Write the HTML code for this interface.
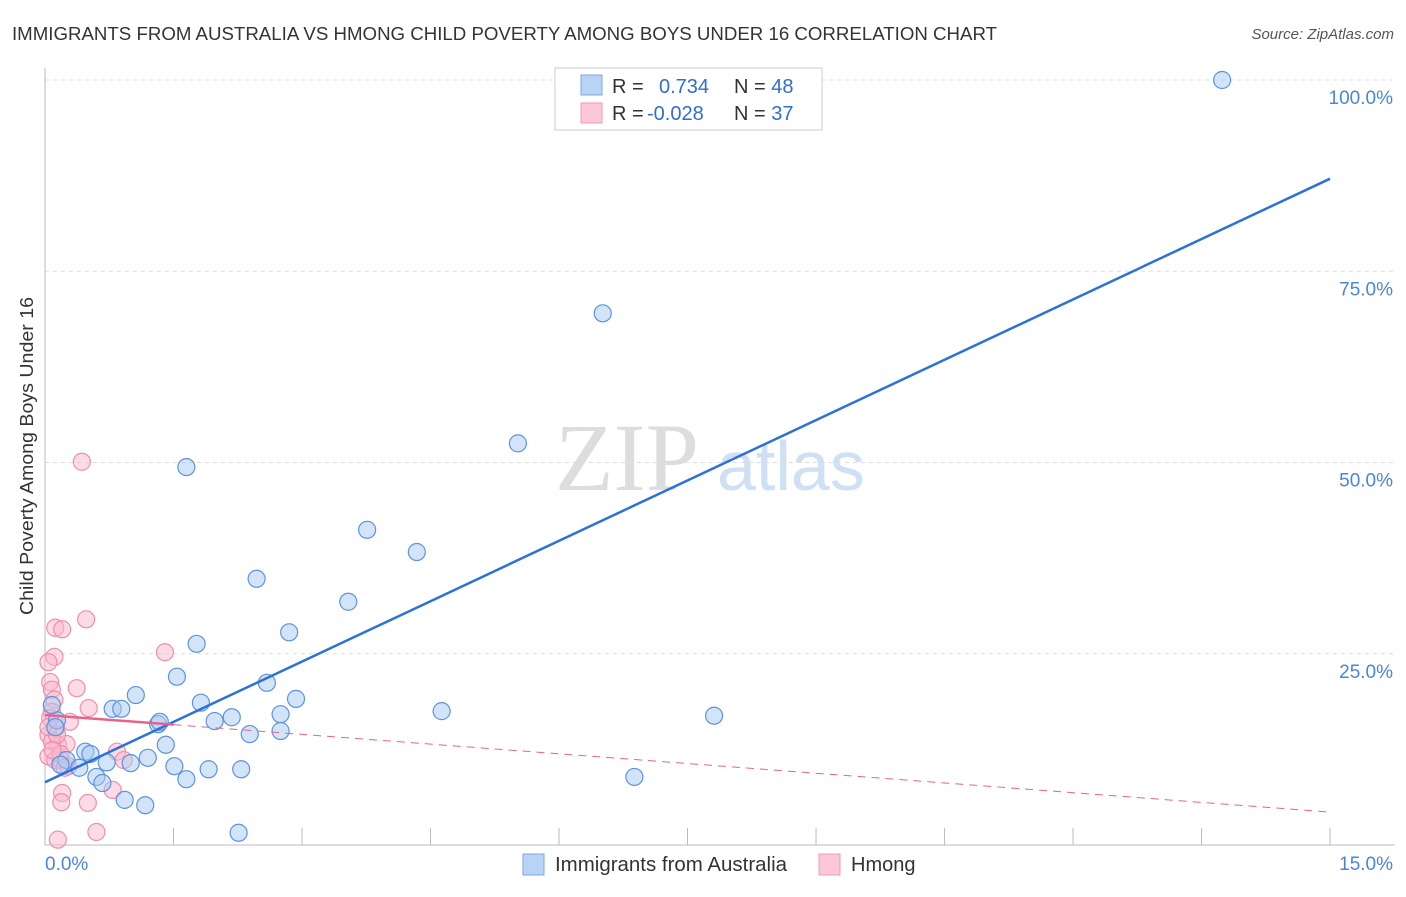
<!DOCTYPE html>
<html><head><meta charset="utf-8"><style>
body{margin:0;background:#fff;font-family:"Liberation Sans",sans-serif}
</style></head><body>
<svg id="chart" width="1406" height="892" xmlns="http://www.w3.org/2000/svg" font-family="Liberation Sans, sans-serif">
<text x="12" y="40" font-size="18" fill="#333" textLength="985" lengthAdjust="spacingAndGlyphs">IMMIGRANTS FROM AUSTRALIA VS HMONG CHILD POVERTY AMONG BOYS UNDER 16 CORRELATION CHART</text>
<text x="1394" y="39" font-size="15" fill="#555" font-style="italic" text-anchor="end">Source: ZipAtlas.com</text>
<text x="555" y="490" font-size="96" fill="#ddd" font-family="Liberation Serif, serif">ZIP</text>
<text x="717" y="490" font-size="70" fill="#cfe0f5">atlas</text>
<text transform="translate(33,456) rotate(-90)" font-size="18" fill="#333" text-anchor="middle" textLength="318" lengthAdjust="spacingAndGlyphs">Child Poverty Among Boys Under 16</text>
<g id="grid"></g><g id="pts"></g><g id="lines"></g>
<g>
<rect x="555" y="68" width="267" height="62" fill="#fff" stroke="#ccc"/>
<rect x="581" y="75" width="21" height="20" fill="#b9d3f5" stroke="#7aa7e6"/>
<rect x="581" y="103" width="21" height="20" fill="#fcc8d8" stroke="#f09ab5"/>
<text x="612" y="93" font-size="20" fill="#333">R = <tspan x="659" fill="#2f6fd1">0.734</tspan><tspan x="734" fill="#333">N = </tspan><tspan fill="#2f6fd1">48</tspan></text>
<text x="612" y="120" font-size="20" fill="#333">R = <tspan x="647" fill="#2f6fd1">-0.028</tspan><tspan x="734" fill="#333">N = </tspan><tspan fill="#2f6fd1">37</tspan></text>
</g>
<g>
<rect x="523" y="854" width="21" height="21" fill="#b9d3f5" stroke="#7aa7e6"/>
<text x="555" y="871" font-size="20" fill="#333" textLength="232" lengthAdjust="spacingAndGlyphs">Immigrants from Australia</text>
<rect x="819" y="854" width="21" height="21" fill="#fcc8d8" stroke="#f09ab5"/>
<text x="851" y="871" font-size="20" fill="#333">Hmong</text>
</g>
<text x="45" y="870" font-size="19" fill="#4a86d8">0.0%</text>
<text x="1393" y="870" font-size="19" fill="#4a86d8" text-anchor="end">15.0%</text>
</svg>
<script>
const yTicks=[25,50,75,100];
const yTickLabels=["25.0%","50.0%","75.0%","100.0%"];
const xTicks=[0,1.5,3,4.5,6,7.5,9,10.5,12,13.5,15];
const blueX=[13.74,6.51,5.52,1.65,3.76,4.34,2.47,3.54,2.85,1.77,1.54,2.59,1.06,2.93,1.82,4.63,7.81,0.79,0.89,2.18,1.98,2.75,1.32,1.34,2.39,2.75,1.41,0.47,0.53,1.20,0.25,0.72,1.00,1.51,1.91,2.29,0.40,0.60,0.67,1.65,6.88,0.93,1.17,2.26,0.14,0.12,0.08,0.18];
const blueY=[100.0,69.5,52.5,49.4,41.2,38.3,34.8,31.8,27.8,26.3,22.0,21.2,19.6,19.1,18.6,17.5,16.9,17.8,17.8,16.7,16.2,17.1,15.8,16.1,14.5,14.9,13.1,12.2,11.9,11.4,11.1,10.8,10.7,10.3,9.9,9.9,10.1,8.9,8.1,8.6,8.9,5.9,5.2,1.6,16.3,15.4,18.3,10.5];
const pinkX=[0.43,0.48,0.12,0.20,1.40,0.11,0.04,0.06,0.08,0.37,0.51,0.11,0.08,0.29,0.13,0.04,0.15,0.25,0.08,0.04,0.18,0.84,0.92,0.79,0.20,0.19,0.50,0.60,0.15,0.12,0.27,0.06,0.04,0.14,0.18,0.23,0.09];
const pinkY=[50.1,29.5,28.4,28.2,25.2,24.6,23.9,21.3,20.3,20.5,17.9,19.0,17.4,16.1,15.3,14.4,13.1,13.2,13.5,11.6,11.1,12.2,11.1,7.2,6.8,5.6,5.5,1.7,0.7,11.1,10.3,16.6,15.4,14.4,11.9,10.1,12.4];
const blueTrend=[8.2,87.1];
const pinkTrend=[17.0,4.3];
const NS="http://www.w3.org/2000/svg";
const X=v=>45+v*85.67, Y=v=>845-v*7.65;
function mk(t,a,p){const e=document.createElementNS(NS,t);for(const k in a)e.setAttribute(k,a[k]);p.appendChild(e);return e;}
const grid=document.getElementById('grid');
yTicks.forEach((t,i)=>{
 const l=mk('line',{x1:45,x2:1395,y1:Y(t),y2:Y(t),stroke:'#ddd','stroke-dasharray':'4,4'},grid);
 
 
 const tx=mk('text',{x:1393,y:Y(t)+24,'font-size':19,fill:'#4a86d8','text-anchor':'end'},grid);
 tx.textContent=yTickLabels[i];
 
 
});
const ax=mk('path',{d:'M45 68V845H1395',fill:'none',stroke:'#bbb'},grid);


xTicks.forEach(t=>{
 const l=mk('line',{x1:X(t),x2:X(t),y1:828,y2:845,stroke:'#bbb'},grid);
 
 
});
const pts=document.getElementById('pts');
pinkX.forEach((x,i)=>{
 const c=mk('circle',{cx:X(x),cy:Y(pinkY[i]),r:8.5,fill:'#f9b8cc','fill-opacity':0.5,stroke:'#ef8fae','stroke-width':1.2},pts);
 
 
});
blueX.forEach((x,i)=>{
 const c=mk('circle',{cx:X(x),cy:Y(blueY[i]),r:8.5,fill:'#a9c9f2','fill-opacity':0.5,stroke:'#5b93e0','stroke-width':1.2},pts);
 
 
});
const lines=document.getElementById('lines');
const bl=mk('line',{x1:X(0),y1:Y(blueTrend[0]),x2:X(15),y2:Y(blueTrend[1]),stroke:'#2a72d8','stroke-width':2.5},lines);


const pAt=x=>pinkTrend[0]+(pinkTrend[1]-pinkTrend[0])*x/15;
const ps=mk('line',{x1:X(0),y1:Y(pAt(0)),x2:X(1.5),y2:Y(pAt(1.5)),stroke:'#e8628e','stroke-width':2.5},lines);


const pd=mk('line',{x1:X(1.5),y1:Y(pAt(1.5)),x2:X(15),y2:Y(pAt(15)),stroke:'#e8628e','stroke-width':1,'stroke-dasharray':'8,6'},lines);


</script>
</body></html>
